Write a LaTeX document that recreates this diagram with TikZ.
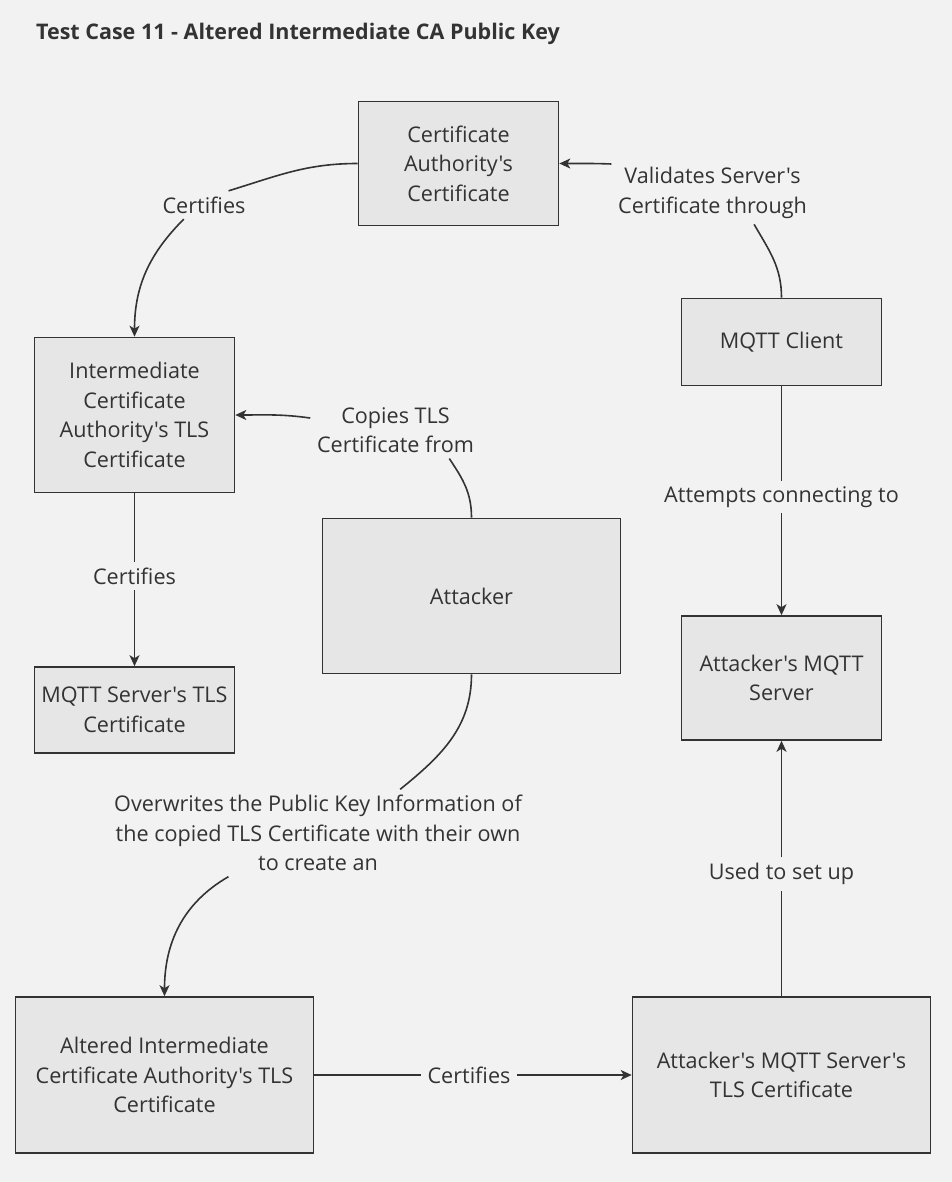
\documentclass[tikz,border=0pt]{standalone}
\usepackage{fontspec}
\setmainfont{Open Sans}[Ligatures=TeXOff]
\usetikzlibrary{positioning,arrows.meta}
\definecolor{bg}{HTML}{F2F2F2}
\definecolor{boxfill}{HTML}{E6E6E6}
\definecolor{ink}{HTML}{333333}

\begin{document}
\begin{tikzpicture}[%
        x=1pt, y=1pt,
        ->,
        >={Stealth[length=11pt,width=10pt,inset=3pt]},
        line width=1.6pt,
        color=ink,
        every node/.style={font=\fontsize{21.6}{29.5}\selectfont, text=ink},
        box/.style={%
          rectangle,
          draw=ink,
          fill=boxfill,
          align=center,
          minimum width=200pt,
          inner sep=0pt
        },
        lbl/.style={align=center, inner xsep=6pt, inner ysep=5pt}
      ]
      \fill[bg] (0,0) rectangle (952,-1182);
      \node[anchor=base west, font=\bfseries\fontsize{21.5}{24}\selectfont] (title) at (32,-40)
        {Test Case 11 - Altered Intermediate CA Public Key};

      % boxes
      \node[box, minimum height=124pt] (ca) at (458.5,-163.5) {Certificate\\Authority's\\Certificate};
      \node[box, minimum height=155pt] (ica) at (134.5,-415) {Intermediate\\Certificate\\Authority's TLS\\Certificate};
      \node[box, minimum height=86pt] (srvcert) at (134.5,-710) {MQTT Server's TLS\\Certificate};
      \node[box, minimum width=298pt, minimum height=155pt] (attacker) at (471.5,-596) {Attacker};
      \node[box, minimum height=87pt] (client) at (781.5,-342) {MQTT Client};
      \node[box, minimum height=124pt] (fakesrv) at (781.5,-678) {Attacker's MQTT\\Server};
      \node[box, minimum width=298pt, minimum height=156pt] (altered) at (164.5,-1075)
        {Altered Intermediate\\Certificate Authority's TLS\\Certificate};
      \node[box, minimum width=298pt, minimum height=156pt] (fakecert) at (781.5,-1075)
        {Attacker's MQTT Server's\\TLS Certificate};

      % edge labels
      \node[lbl] (certifiesA) at (204,-205) {Certifies};
      \node[lbl] (validates) at (712.5,-193) {Validates Server's\\Certificate through};
      \node[lbl] (copies) at (395.5,-430) {Copies TLS\\Certificate from};
      \node[lbl] (certifiesB) at (134.5,-576) {Certifies};
      \node[lbl] (overwrites) at (318,-833)
        {Overwrites the Public Key Information of\\the copied TLS Certificate with their own\\to create an};
      \node[lbl] (attempts) at (781.5,-497) {Attempts connecting to};
      \node[lbl] (usedto) at (781.5,-874) {Used to set up};
      \node[lbl] (certifiesC) at (469,-1075) {Certifies};

      \path (ca.west) edge[-, out=180, in=17] (certifiesA.30)
      (certifiesA.215) edge[out=225, in=90] (ica.north)
      (client.north) edge[-, out=90, in=-60] (validates.-37)
      (validates.164) edge[out=178, in=0] (ca.east)
      (attacker.north) edge[-, out=90, in=-56] (copies.-28)
      (copies) edge[out=172, in=0] (ica)
      (ica) edge[-] (certifiesB)
      (certifiesB) edge (srvcert)
      (attacker.south) edge[-, out=-90, in=39] (overwrites.28)
      (overwrites.206) edge[out=210, in=90] (altered.north)
      (client) edge[-] (attempts)
      (attempts) edge (fakesrv)
      (fakecert) edge[-] (usedto)
      (usedto) edge (fakesrv)
      (altered) edge[-] (certifiesC)
      (certifiesC) edge (fakecert);
  \end{tikzpicture}
\end{document}
